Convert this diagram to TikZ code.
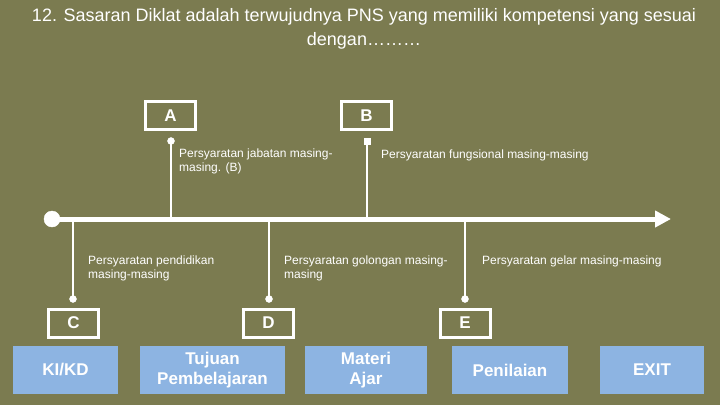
\documentclass[tikz,border=0pt]{standalone}
\usepackage{fontspec}
\setmainfont{Liberation Sans}
\usetikzlibrary{arrows.meta,positioning,calc}
\definecolor{bgolive}{RGB}{123,123,80}
\definecolor{menublue}{RGB}{141,180,226}

\begin{document}
\begin{tikzpicture}[x=1pt, y=-1pt,
    letterbox/.style={draw=white, line width=3pt, minimum width=50pt, minimum height=28pt,
      inner sep=0pt, text=white, font=\bfseries\fontsize{17}{19}\selectfont},
    menubox/.style={fill=menublue, text=white, align=center, inner sep=0pt,
      minimum height=48pt, font=\bfseries\fontsize{17}{20}\selectfont},
    note/.style={text=white, align=left, anchor=north west, inner sep=0pt,
      font=\fontsize{12}{14}\selectfont},
    stem/.style={draw=white, line width=2.5pt}]

          \fill[bgolive] (0,0) rectangle (720,405);
          \useasboundingbox (0,0) rectangle (720,405);

          \node[text=white, align=center, font=\fontsize{18}{24}\selectfont] (title) at (364,29)
          {12. Sasaran Diklat adalah terwujudnya PNS yang memiliki kompetensi yang sesuai\\ dengan\dots\dots\dots};

          % time line
          \coordinate (start) at (52,219);
          \coordinate (tip) at (671,219);
          \draw[white, line width=5pt, -{Triangle[length=16pt, width=16pt]}] (start) -- (tip);
          \filldraw[white] (start) circle (8pt);

          % letters above the line
          \node[letterbox] (A) at (170.5,115.5) {A};
          \node[letterbox] (B) at (366.5,115.5) {B};
          \coordinate (topA) at (171,141);
          \coordinate (topB) at (367,141);
          \draw[stem] (topA) -- (topA |- start);
          \draw[stem] (topB) -- (topB |- start);
          \filldraw[white] (topA) circle (3.5pt);
          \fill[white] ($(topB)+(-3.5,-3.5)$) rectangle ($(topB)+(3.5,3.5)$);

          \node[note] (noteA) at (179,149) {Persyaratan jabatan masing-\\masing. (B)};
          \node[note] (noteB) at (381,150) {Persyaratan fungsional masing-masing};

          % letters below the line
          \node[letterbox] (C) at (73.5,323) {C};
          \node[letterbox] (D) at (268.5,323) {D};
          \node[letterbox] (E) at (465,323) {E};
          \coordinate (botC) at (73,299);
          \coordinate (botD) at (269,299);
          \coordinate (botE) at (465,299);
          \foreach \p in {botC, botD, botE} {
            \draw[stem] (\p |- start) -- (\p);
            \filldraw[white] (\p) circle (3.5pt);
          }

          \node[note] (noteC) at (88,256) {Persyaratan pendidikan\\masing-masing};
          \node[note] (noteD) at (284,256) {Persyaratan golongan masing-\\masing};
          \node[note] (noteE) at (482,256) {Persyaratan gelar masing-masing};

          % menu
          \node[menubox, minimum width=105pt] (kikd) at (65.5,370) {KI/KD};
          \node[menubox, minimum width=145pt] (tujuan) at (212.5,370) {Tujuan\\Pembelajaran};
          \node[menubox, minimum width=122pt] (materi) at (366,370) {Materi\\Ajar};
          \node[menubox, minimum width=116pt] (nilai) at (510,370) {Penilaian};
          \node[menubox, minimum width=104pt] (exit) at (652,370) {EXIT};

        \end{tikzpicture}
\end{document}
